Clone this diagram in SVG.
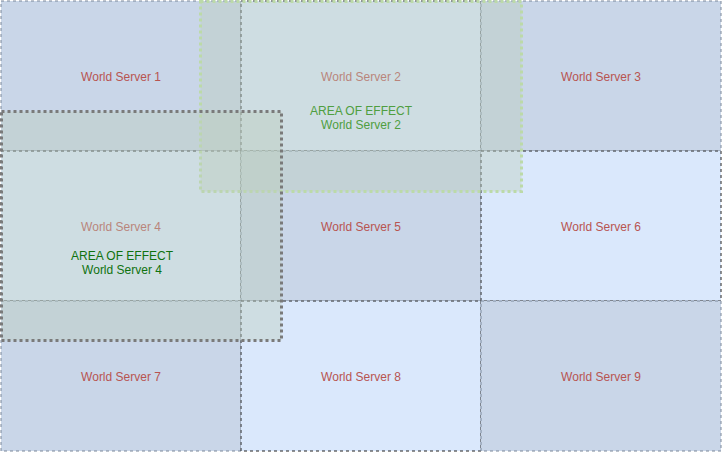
<svg xmlns="http://www.w3.org/2000/svg" width="722" height="452" viewBox="0 0 722 452">
  <style>
    .cell { stroke-width: 1; stroke-dasharray: 3 3; }
    .dark { fill: #c9d6e8; stroke: #7a8799; }
    .light { fill: #dae8fc; stroke: #222; }
    .lbl { font-family: "Liberation Sans", Arial, sans-serif; font-size: 12px; fill: #b85450; text-anchor: middle; dominant-baseline: central; }
    .aoe { fill: rgb(188,206,187); fill-opacity: 0.4; stroke-width: 3; stroke-dasharray: 3 3; }
    .aoetxt { font-family: "Liberation Sans", Arial, sans-serif; font-size: 12px; text-anchor: middle; dominant-baseline: central; }
  </style>
  <rect width="722" height="452" fill="#ffffff"/>
  <g id="ws1"><rect class="cell dark" x="1" y="1" width="240" height="150"/><text class="lbl" x="121" y="77">World Server 1</text></g>
  <g id="ws2"><rect class="cell light" x="241" y="1" width="240" height="150"/><text class="lbl" x="361" y="77">World Server 2</text></g>
  <g id="ws3"><rect class="cell dark" x="481" y="1" width="240" height="150"/><text class="lbl" x="601" y="77">World Server 3</text></g>
  <g id="ws4"><rect class="cell light" x="1" y="151" width="240" height="150"/><text class="lbl" x="121" y="227">World Server 4</text></g>
  <g id="ws5"><rect class="cell dark" x="241" y="151" width="240" height="150"/><text class="lbl" x="361" y="227">World Server 5</text></g>
  <g id="ws6"><rect class="cell light" x="481" y="151" width="240" height="150"/><text class="lbl" x="601" y="227">World Server 6</text></g>
  <g id="ws7"><rect class="cell dark" x="1" y="301" width="240" height="150"/><text class="lbl" x="121" y="377">World Server 7</text></g>
  <g id="ws8"><rect class="cell light" x="241" y="301" width="240" height="150"/><text class="lbl" x="361" y="377">World Server 8</text></g>
  <g id="ws9"><rect class="cell dark" x="481" y="301" width="240" height="150"/><text class="lbl" x="601" y="377">World Server 9</text></g>
  <g id="aoe2">
    <rect class="aoe" x="200.5" y="1.5" width="321" height="190" stroke="#bcdaa8"/>
  </g>
  <g id="aoe4">
    <rect class="aoe" x="1.5" y="111.5" width="280" height="229" stroke="#7a7a7a"/>
  </g>
  <g id="aoe2-label">
    <text class="aoetxt" x="361" y="111" fill="#4f9e40">AREA OF EFFECT</text>
    <text class="aoetxt" x="361" y="125" fill="#4f9e40">World Server 2</text>
  </g>
  <g id="aoe4-label">
    <text class="aoetxt" x="122" y="256" fill="#0f720f">AREA OF EFFECT</text>
    <text class="aoetxt" x="122" y="270" fill="#0f720f">World Server 4</text>
  </g>
</svg>
